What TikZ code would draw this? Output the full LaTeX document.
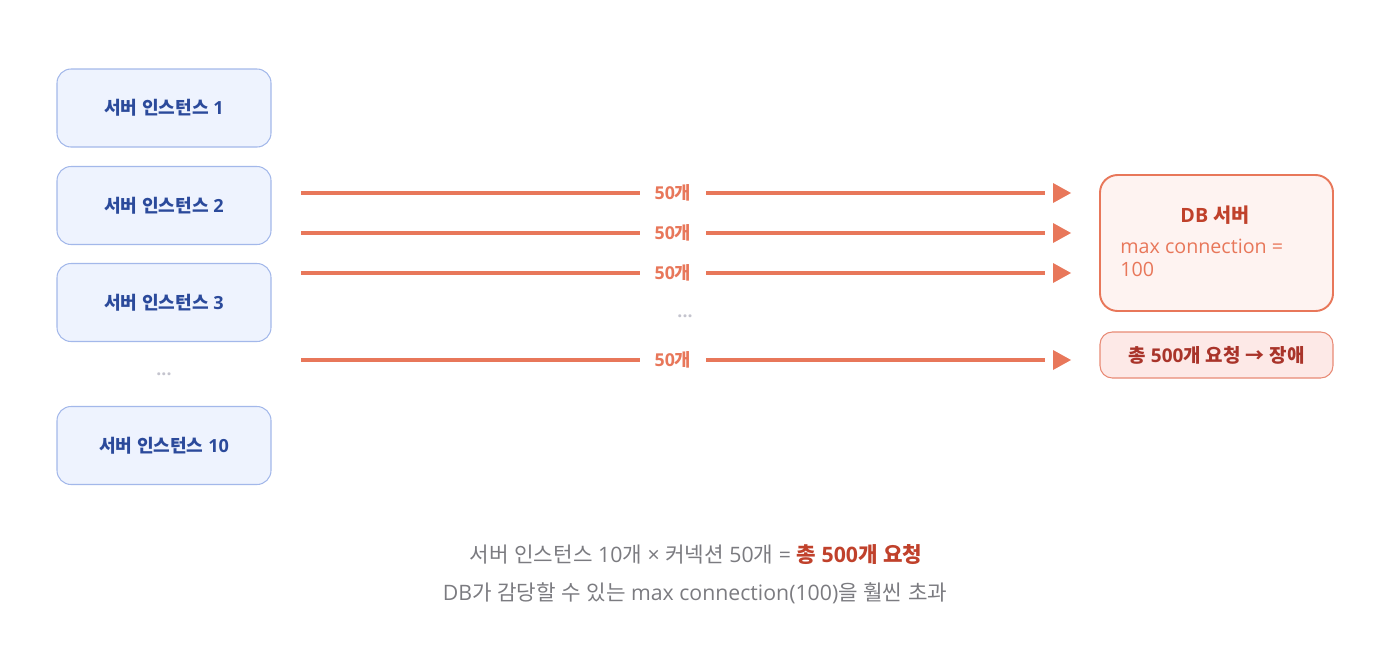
\documentclass[tikz,border=0pt]{standalone}
\usepackage{fontspec}
\setmainfont{Open Sans}
\newfontfamily\krfont{Noto Sans CJK KR}
\XeTeXinterchartokenstate=1
\newXeTeXintercharclass\krclass
\newcount\krcnt
\krcnt="AC00
\loop\ifnum\krcnt<"D7A4 \XeTeXcharclass\krcnt=\krclass \advance\krcnt by 1 \repeat
\krcnt="3131
\loop\ifnum\krcnt<"318F \XeTeXcharclass\krcnt=\krclass \advance\krcnt by 1 \repeat
\XeTeXcharclass"2192=\krclass
\XeTeXinterchartoks 0 \krclass = {\begingroup\krfont}
\XeTeXinterchartoks 4095 \krclass = {\begingroup\krfont}
\XeTeXinterchartoks \krclass 0 = {\endgroup}
\XeTeXinterchartoks \krclass 4095 = {\endgroup}
\usetikzlibrary{arrows.meta}
\definecolor{srvfill}{HTML}{EEF3FE}
\definecolor{srvdraw}{HTML}{A3B8EA}
\definecolor{srvtext}{HTML}{2B4A9B}
\definecolor{flowc}{HTML}{E8775A}
\definecolor{dbfill}{HTML}{FEF3F1}
\definecolor{dbtitle}{HTML}{C0412B}
\definecolor{failfill}{HTML}{FDE9E7}
\definecolor{faildraw}{HTML}{E88A75}
\definecolor{failtext}{HTML}{A9342A}
\definecolor{graytext}{HTML}{7B7B80}
\definecolor{dotc}{HTML}{C4C4CE}
\tikzset{
  srv/.style={draw=srvdraw, fill=srvfill, line width=0.6pt, rounded corners=8pt,
    minimum width=214*0.02cm, minimum height=78*0.02cm, text=srvtext,
    font=\fontsize{10.3}{12}\selectfont\bfseries, inner sep=0pt},
  flow/.style={draw=flowc, line width=1.9pt, shorten >=26*0.02cm},
  tiphead/.style={draw=none, fill=flowc},
  lbl/.style={fill=white, text=flowc, font=\fontsize{10.1}{11}\selectfont\bfseries,
    inner xsep=8.5pt, inner ysep=2pt},
  dotsn/.style={text=dotc, font=\fontsize{10}{12}\selectfont\bfseries},
  note/.style={text=graytext, font=\fontsize{12.1}{14}\selectfont},
}
\begin{document}
\begin{tikzpicture}[x=0.02cm,y=-0.02cm]
\useasboundingbox (0,0) rectangle (1382,646);
% server instances
\node[srv] (s1) at (164,108) {서버 인스턴스 1};
\node[srv] (s2) at (164,205.5) {서버 인스턴스 2};
\node[srv] (s3) at (164,302.5) {서버 인스턴스 3};
\node[dotsn] (sd) at (164,374) {...};
\node[srv] (s10) at (164,445.5) {서버 인스턴스 10};
% DB server
\node[draw=flowc, fill=dbfill, line width=1.1pt, rounded corners=10pt,
  minimum width=233*0.02cm, minimum height=136*0.02cm, inner sep=0pt] (db) at (1216.5,243) {};
\node[text=dbtitle, font=\fontsize{11.2}{12}\selectfont\bfseries] (dbt) at (1215,215) {DB 서버};
\node[text=flowc, font=\fontsize{11.2}{13}\selectfont, align=left, anchor=north west,
  inner sep=0pt] (dbm) at (1120,239) {max connection =\\100};
% failure box
\node[draw=faildraw, fill=failfill, line width=0.6pt, rounded corners=7pt,
  minimum width=233*0.02cm, minimum height=46*0.02cm, text=failtext,
  font=\fontsize{10.8}{12}\selectfont\bfseries, inner sep=0pt] (fail) at (1216.5,355) {총 500개 요청 → 장애};
% flow coordinates
\foreach \i/\y in {1/193,2/233,3/273,4/360}{
  \coordinate (a\i) at (301,\y);
  \coordinate (b\i) at (1071,\y);
}
\foreach \i in {1,2,3,4}{
  \draw[flow] (a\i) -- node[lbl, pos=0.483] (l\i) {50개} (b\i);
  \fill[tiphead] (b\i) -- ++(-18,-10) -- ++(0,20) -- cycle;
}
\node[dotsn] (fd) at (685,316) {...};
% bottom text
\node[note] (t1) at (696,555)
  {서버 인스턴스 10개 × 커넥션 50개 = \textcolor{dbtitle}{\bfseries 총 500개 요청}};
\node[note] (t2) at (695,593)
  {DB가 감당할 수 있는 max connection(100)을 훨씬 초과};
\end{tikzpicture}
\end{document}
